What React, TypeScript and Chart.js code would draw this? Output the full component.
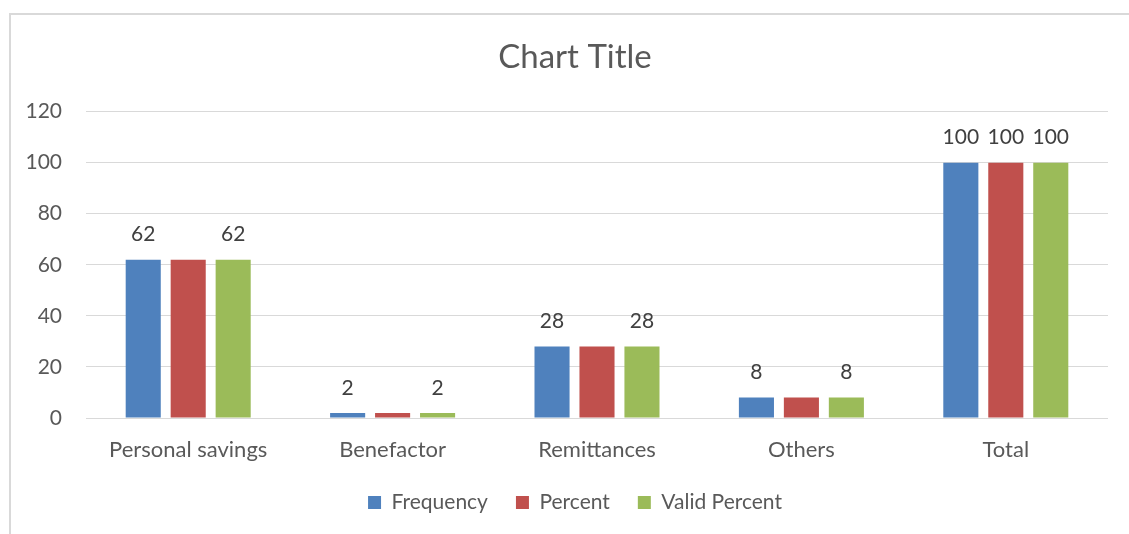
import React, { useEffect, useRef } from "react";
import { Chart, registerables } from "chart.js";

Chart.register(...registerables);

const categories = ["Personal savings", "Benefactor", "Remittances", "Others", "Total"];
const frequency = [62, 2, 28, 8, 100];
const percent = [62, 2, 28, 8, 100];
const validPercent = [62, 2, 28, 8, 100];
const frequencyLabelShown = [true, true, true, true, true];
const percentLabelShown = [false, false, false, false, true];
const validPercentLabelShown = [true, true, true, true, true];
const yMin = 0;
const yMax = 120;
const yStep = 20;

const FONT = "Lato, 'Open Sans', sans-serif";

const dataLabelPlugin = {
  id: "dataLabels",
  afterDatasetsDraw(chart: any) {
    const ctx = chart.ctx;
    ctx.save();
    ctx.font = `21px ${FONT}`;
    ctx.fillStyle = "#404040";
    ctx.textAlign = "center";
    ctx.textBaseline = "middle";
    chart.data.datasets.forEach((ds: any, di: number) => {
      const meta = chart.getDatasetMeta(di);
      meta.data.forEach((el: any, i: number) => {
        if (!ds.labelShown[i]) return;
        ctx.fillText(String(ds.data[i]), el.x, el.y - 25);
      });
    });
    ctx.restore();
  },
};

export default function App() {
  const canvasRef = useRef<HTMLCanvasElement>(null);

  useEffect(() => {
    const canvas = canvasRef.current;
    if (!canvas) return;
    const chart = new Chart(canvas, {
      type: "bar",
      data: {
        labels: categories,
        datasets: [
          { label: "Frequency", data: frequency, backgroundColor: "#4F81BD", labelShown: frequencyLabelShown } as any,
          { label: "Percent", data: percent, backgroundColor: "#C0504D", labelShown: percentLabelShown } as any,
          { label: "Valid Percent", data: validPercent, backgroundColor: "#9BBB59", labelShown: validPercentLabelShown } as any,
        ],
      },
      options: {
        animation: false,
        responsive: false,
        maintainAspectRatio: false,
        layout: { padding: { left: 0, right: 0, top: 0, bottom: 11 } },
        datasets: { bar: { categoryPercentage: 0.66, barPercentage: 0.78 } },
        scales: {
          x: {
            grid: { display: false, drawTicks: false },
            border: { display: false },
            ticks: { color: "#595959", font: { family: FONT, size: 22 }, padding: 19, maxRotation: 0 },
            afterFit: (s: any) => { s.height = 46; },
          },
          y: {
            min: yMin,
            max: yMax,
            grid: { color: "#d9d9d9", drawTicks: false },
            border: { display: false },
            ticks: { stepSize: yStep, color: "#595959", font: { family: FONT, size: 21 }, padding: 24 },
            afterFit: (s: any) => { s.width = 86; },
          },
          yRight: {
            position: "right",
            display: true,
            grid: { display: false, drawTicks: false },
            border: { display: false },
            ticks: { display: false },
            afterFit: (s: any) => { s.width = 42; },
          },
        },
        plugins: {
          title: {
            display: true,
            text: "Chart Title",
            color: "#595959",
            font: { family: FONT, size: 33, weight: "normal" },
            padding: { top: 38, bottom: 34 },
          },
          legend: {
            position: "bottom",
            labels: {
              color: "#595959",
              font: { family: FONT, size: 21 },
              boxWidth: 13,
              boxHeight: 13,
              padding: 28,
            },
          },
          tooltip: { enabled: false },
        },
      },
      plugins: [dataLabelPlugin],
    });
    return () => chart.destroy();
  }, []);

  return (
    <div style={{ position: "absolute", left: 0, top: 0, width: 1129, height: 534, overflow: "hidden", background: "#fff" }}>
      <div style={{ position: "absolute", left: 9, top: 13, width: 1200, height: 600, borderTop: "2px solid #d9d9d9", borderLeft: "2px solid #d9d9d9" }} />
      <canvas ref={canvasRef} width={1150} height={534} style={{ position: "absolute", left: 0, top: 0, width: 1150, height: 534 }} />
    </div>
  );
}
